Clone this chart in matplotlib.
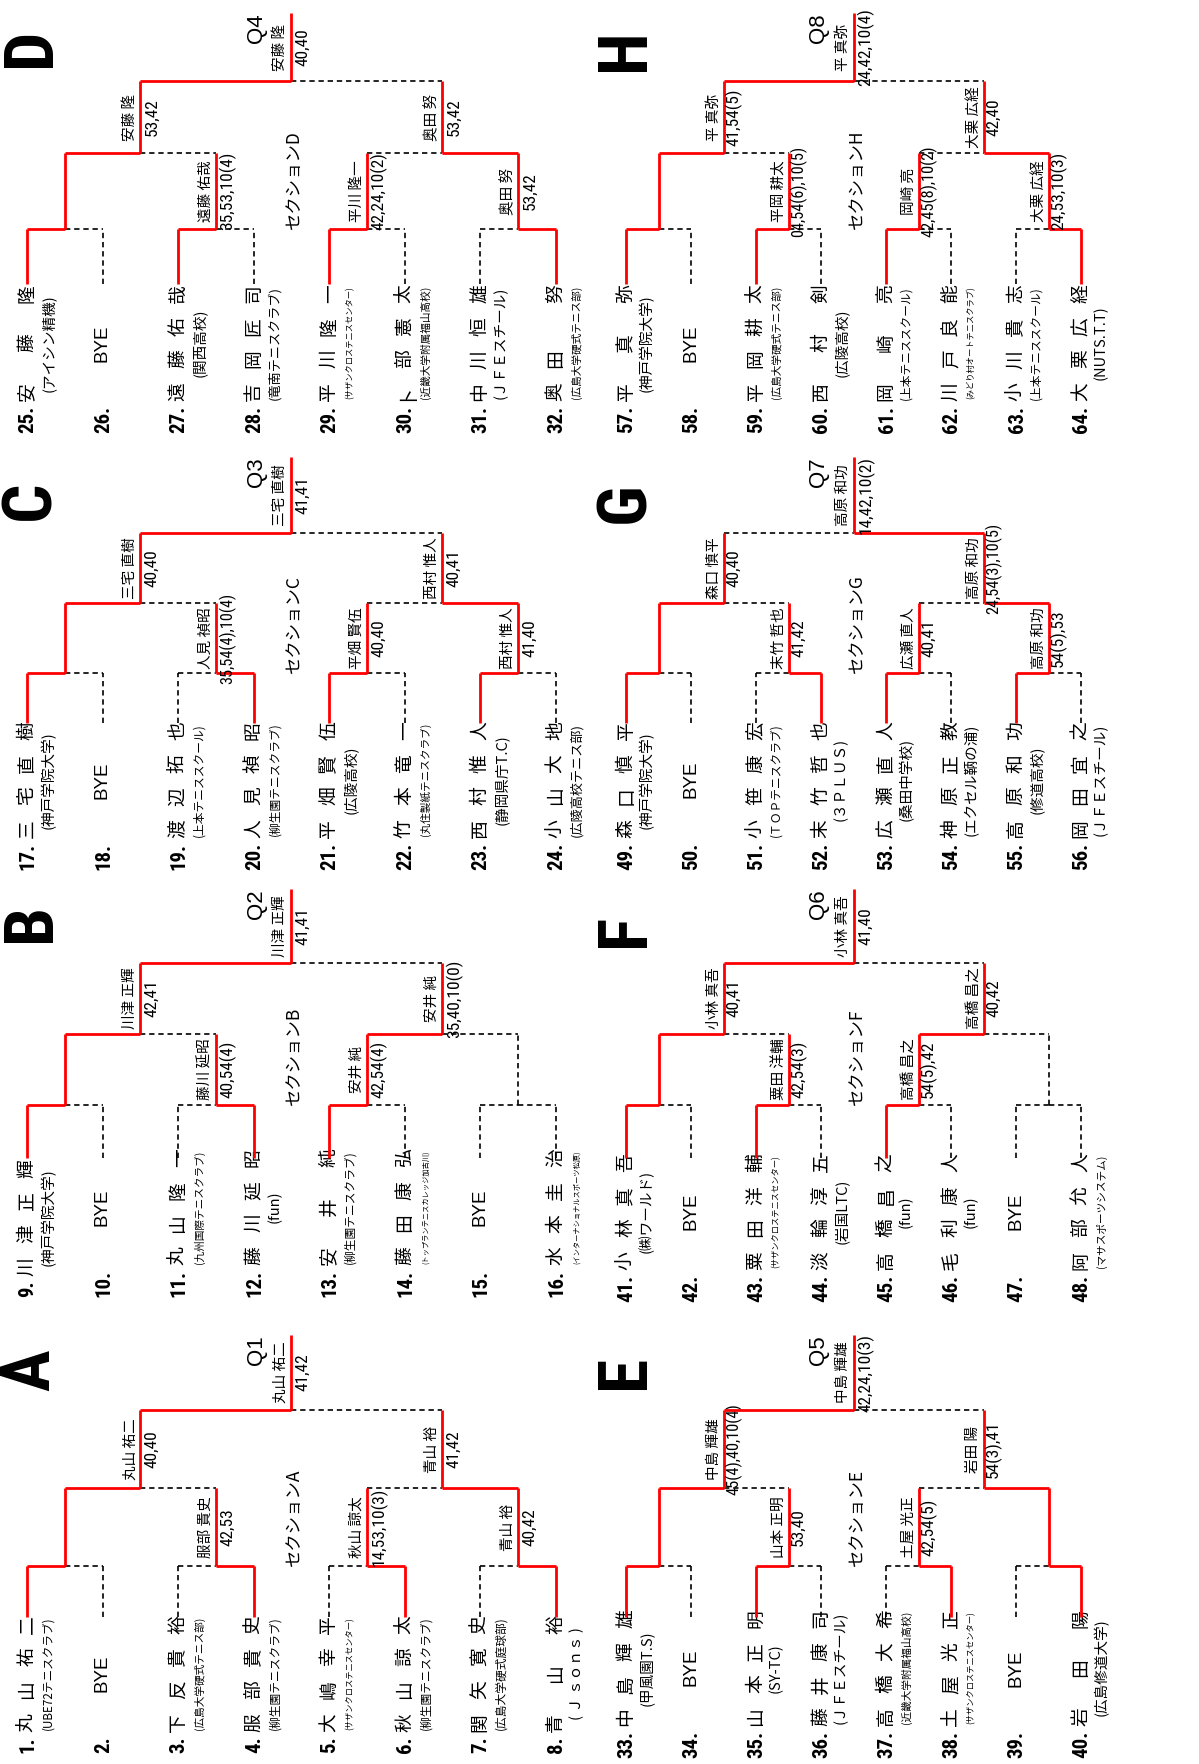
import os
import matplotlib
matplotlib.use('Agg')
import matplotlib.pyplot as plt
from matplotlib import font_manager as fm
from matplotlib.font_manager import FontProperties

W, H = 1199, 1764
CJK = ['Noto Sans CJK JP', 'DejaVu Sans']

# ---------------- data ----------------
section_letters = ['A', 'B', 'C', 'D', 'E', 'F', 'G', 'H']
qualifier_labels = ['Q1', 'Q2', 'Q3', 'Q4', 'Q5', 'Q6', 'Q7', 'Q8']

player_names = [
    '丸山祐二', 'BYE', '下反貴裕', '服部貴史', '大嶋幸平', '秋山諒太', '関矢寛史', '青山裕',
    '川津正輝', 'BYE', '丸山隆一', '藤川延昭', '安井純', '藤田康弘', 'BYE', '水本圭治',
    '三宅直樹', 'BYE', '渡辺拓也', '人見禎昭', '平畑賢伍', '竹本竜一', '西村惟人', '小山大地',
    '安藤隆', 'BYE', '遠藤佑哉', '吉岡匠司', '平川隆一', '卜部憲太', '中川恒雄', '奥田　努',
    '中島輝雄', 'BYE', '山本正明', '藤井康司', '高橋大希', '土屋光正', 'BYE', '岩田陽',
    '小林真吾', 'BYE', '粟田洋輔', '淡輪淳五', '高橋昌之', '毛利康人', 'BYE', '阿部允人',
    '森口慎平', 'BYE', '小笹康宏', '末竹哲也', '広瀬直人', '神原正教', '高原和功', '岡田宜之',
    '平真弥', 'BYE', '平岡耕太', '西村剣', '岡崎亮', '川戸良能', '小川貴志', '大栗広経',
]
player_affils = [
    '(UBE72テニスクラブ)', '', '(広島大学硬式テニス部)', '(柳生園テニスクラブ)',
    '(サザンクロステニスセンター)', '(柳生園テニスクラブ)', '(広島大学硬式庭球部)', '( Ｊ ｓｏｎｓ )',
    '(神戸学院大学)', '', '(九州国際テニスクラブ)', '(fun)',
    '(柳生園テニスクラブ)', '(トップランテニスカレッジ加古川)', '', '(インターナショナルスポーツ松原)',
    '(神戸学院大学)', '', '(上本テニススクール)', '(柳生園テニスクラブ)',
    '(広陵高校)', '(丸住製紙テニスクラブ)', '(静岡県庁T.C)', '(広陵高校テニス部)',
    '(アイシン精機)', '', '(関西高校)', '(竜南テニスクラブ)',
    '(サザンクロステニスセンター)', '(近畿大学附属福山高校)', '(ＪＦＥスチール)', '(広島大学硬式テニス部)',
    '(甲風園T.S)', '', '(SY-TC)', '(ＪＦＥスチール)',
    '(近畿大学附属福山高校)', '(サザンクロステニスセンター)', '', '(広島修道大学)',
    '(㈱ワールド)', '', '(サザンクロステニスセンター)', '(岩国LTC)',
    '(fun)', '(fun)', '', '(マサスポーツシステム)',
    '(神戸学院大学)', '', '(ＴＯＰテニスクラブ)', '(３ＰＬＵＳ)',
    '(桑田中学校)', '(エクセル鞆の浦)', '(修道高校)', '(ＪＦＥスチール)',
    '(神戸学院大学)', '', '(広島大学硬式テニス部)', '(広陵高校)',
    '(上本テニススクール)', '(みどり村オートテニスクラブ)', '(上本テニススクール)', '(NUTS.T.T)',
]

# round 1: winner slot (0 = upper-numbered player, 1 = lower), label name, score
r1_winner = [0, 1, 1, 1, 0, 1, 0, None, 0, 1, 0, 0, 0, 0, 0, 1,
             0, 0, 1, 1, 0, 0, 0, None, 0, 1, 0, 0, 0, 0, 0, 1]
r1_name = ['', '服部 貴史', '秋山 諒太', '青山 裕',
           '', '藤川 延昭', '安井 純', '',
           '', '人見 禎昭', '平畑 賢伍', '西村 惟人',
           '', '遠藤 佑哉', '平川 隆一', '奥田 努',
           '', '山本 正明', '土屋 光正', '',
           '', '粟田 洋輔', '高橋 昌之', '',
           '', '末竹 哲也', '広瀬 直人', '高原 和功',
           '', '平岡 耕太', '岡崎 亮', '大栗 広経']
r1_score = ['', '42,53', '14,53,10(3)', '40,42',
            '', '40,54(4)', '42,54(4)', '',
            '', '35,54(4),10(4)', '40,40', '41,40',
            '', '35,53,10(4)', '42,24,10(2)', '53,42',
            '', '53,40', '42,54(5)', '',
            '', '42,54(3)', '54(5),42', '',
            '', '41,42', '40,41', '54(5),53',
            '', '04,54(6),10(5)', '42,45(8),10(2)', '24,53,10(3)']

# round 2
r2_winner = [0, 1, 0, 0, 0, 1, 0, 1, 0, 1, 0, 0, 0, 1, 0, 1]
r2_name = ['丸山 祐二', '青山 裕', '川津 正輝', '安井 純', '三宅 直樹', '西村 惟人',
           '安藤 隆', '奥田 努', '中島 輝雄', '岩田 陽', '小林 真吾', '高橋 昌之',
           '森口 慎平', '高原 和功', '平 真弥', '大栗 広経']
r2_score = ['40,40', '41,42', '42,41', '35,40,10(0)', '40,40', '40,41',
            '53,42', '53,42', '45(4),40,10(4)', '54(3),41', '40,41', '40,42',
            '40,40', '24,54(3),10(5)', '41,54(5)', '42,40']

# section finals
final_winner = [0, 0, 0, 0, 0, 0, 1, 0]
final_name = ['丸山 祐二', '川津 正輝', '三宅 直樹', '安藤 隆',
              '中島 輝雄', '小林 真吾', '高原 和功', '平 真弥']
final_score = ['41,42', '41,41', '41,41', '40,40',
               '42,24,10(3)', '41,40', '14,42,10(2)', '24,42,10(4)']

# ---------------- layout ----------------
col_x0 = [27.0, 626.0]
col_pitch = [75.5, 65.0]
# levels top->bottom rows (D/H, C/G, B/F, A/E): top, L3, L2, L1, line bottom
row_levels = [(13, 81, 153, 229, 284), (457, 533, 603, 673, 723),
              (889, 963, 1034, 1105, 1158), (1335, 1410, 1488, 1566, 1617)]
num_bottom = [1753, 1297, 870, 433, 1758, 1302, 870, 433]
letter_y = [1370, 922, 500, 47, 1372, 930, 503, 50]
letter_x = [31, 626]
lab_dx = [(-10, 12), (-10, 10)]
affil_dx = [21, 20]

RED = '#ff0000'


def find_font(cands):
    files = {}
    for f in fm.fontManager.ttflist:
        files.setdefault(os.path.basename(f.fname).lower(), f.fname)
    for c in cands:
        if c.lower() in files:
            return files[c.lower()]
    return None


nr = find_font(['LiberationSansNarrow-Regular.ttf', 'RobotoCondensed-Regular.ttf',
                'DejaVuSansCondensed.ttf'])
nb = find_font(['LiberationSansNarrow-Bold.ttf', 'RobotoCondensed-Bold.ttf',
                'DejaVuSansCondensed-Bold.ttf'])
fp_narrow = FontProperties(fname=nr) if nr else FontProperties(family='Liberation Sans')
fp_narrow_bold = FontProperties(fname=nb) if nb else FontProperties(family='Liberation Sans', weight='bold')
fp_reg = FontProperties(family='Liberation Sans')
fp_bold = FontProperties(family='Liberation Sans', weight='bold')
fp_cjk = FontProperties(family=CJK)

fig = plt.figure(figsize=(W / 100, H / 100), dpi=100)
ax = fig.add_axes([0, 0, 1, 1])
ax.set_xlim(0, W)
ax.set_ylim(H, 0)
ax.axis('off')
renderer = fig.canvas.get_renderer()


def rtext(x, y, s, size, fp, ha='center', va='center', maxlen=None):
    t = ax.text(x, y, s, rotation=90, ha=ha, va=va, fontproperties=fp.copy(), color='black')
    t.set_fontsize(size)
    if maxlen:
        L = t.get_window_extent(renderer).height
        if L > maxlen:
            t.set_fontsize(size * maxlen / L)
    return t


def seg(x1, y1, x2, y2, red):
    if red:
        ax.plot([x1, x2], [y1, y2], color=RED, lw=2.0, solid_capstyle='butt', zorder=3)
    else:
        ax.plot([x1, x2], [y1, y2], color='black', lw=1.2, ls=(0, (3.2, 2.3)), zorder=2)


for s in range(8):
    col = s // 4
    row = 3 - (s % 4)
    yt, y3, y2, y1, yb = row_levels[row]
    px = [col_x0[col] + k * col_pitch[col] for k in range(8)]
    n1 = [(px[2 * k] + px[2 * k + 1]) / 2 for k in range(4)]
    n2 = [(n1[2 * j] + n1[2 * j + 1]) / 2 for j in range(2)]
    nf = (n2[0] + n2[1]) / 2
    ndx, sdx = lab_dx[col]

    # players
    for k in range(8):
        i = s * 8 + k
        x = px[k]
        t = rtext(x + 1, num_bottom[s], f'{i + 1}.', 15, fp_narrow_bold, va='bottom')
        ntop = H - t.get_window_extent(renderer).y1
        first = ntop - 5 - 9
        last = first - 98
        name = player_names[i]
        if name == 'BYE':
            rtext(x, (first + last) / 2, 'BYE', 13.5, fp_reg)
            continue
        n = len(name)
        for c_i, ch in enumerate(name):
            if ch == '　':
                continue
            yy = first + (last - first) * c_i / (n - 1)
            rtext(x, yy, ch, 13.5, fp_cjk)
        rtext(x + affil_dx[col], (first + last) / 2, player_affils[i], 10.5, fp_cjk, maxlen=114)

    # round 1
    for k in range(4):
        m = s * 4 + k
        w = r1_winner[m]
        seg(px[2 * k], yb, px[2 * k], y1, w == 0)
        seg(px[2 * k + 1], yb, px[2 * k + 1], y1, w == 1)
        seg(px[2 * k], y1, n1[k], y1, w == 0)
        seg(n1[k], y1, px[2 * k + 1], y1, w == 1)
        seg(n1[k], y1, n1[k], y2, w is not None)
        if r1_name[m]:
            yc = (y1 + y2) / 2
            rtext(n1[k] + ndx, yc, r1_name[m], 10.5, fp_cjk, maxlen=80)
            rtext(n1[k] + sdx, yc, r1_score[m], 12.5, fp_narrow, maxlen=92)

    # round 2
    for j in range(2):
        m = s * 2 + j
        w = r2_winner[m]
        seg(n1[2 * j], y2, n2[j], y2, w == 0)
        seg(n2[j], y2, n1[2 * j + 1], y2, w == 1)
        seg(n2[j], y2, n2[j], y3, True)
        yc = (y2 + y3) / 2
        rtext(n2[j] + ndx, yc, r2_name[m], 10.5, fp_cjk, maxlen=80)
        rtext(n2[j] + sdx, yc, r2_score[m], 12.5, fp_narrow, maxlen=92)

    # section final
    w = final_winner[s]
    seg(n2[0], y3, nf, y3, w == 0)
    seg(nf, y3, n2[1], y3, w == 1)
    seg(nf, y3, nf, yt, True)
    yc = (y3 + yt) / 2
    rtext(nf - 11, yc, final_name[s], 10.5, fp_cjk, maxlen=80)
    rtext(nf + 12, yc, final_score[s], 12.5, fp_narrow, maxlen=92)
    rtext(nf - 35, yt, qualifier_labels[s], 16, fp_reg, va='top')

    # section titles
    rtext(letter_x[col], letter_y[s], section_letters[s], 50, fp_narrow_bold)
    rtext(nf + 3, y1, 'セクション' + section_letters[s], 12.5, fp_cjk, va='bottom')

fig.savefig('out.png', dpi=100, facecolor='white')
